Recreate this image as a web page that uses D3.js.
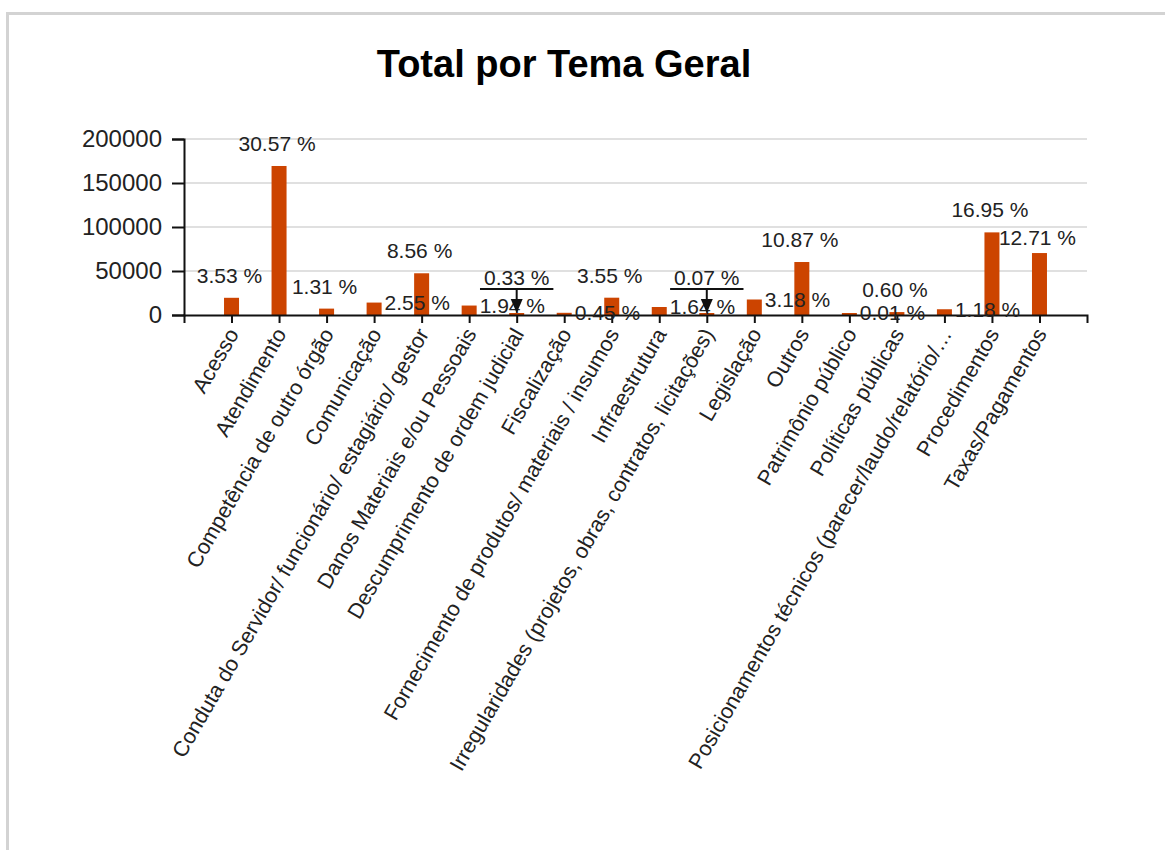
<!DOCTYPE html>
<html>
<head>
<meta charset="utf-8">
<script src="https://cdn.jsdelivr.net/npm/d3@7"></script>
<style>
  body { margin: 0; background: #fff; font-family: Arial, "Liberation Sans", sans-serif; }
  #frame { position: absolute; left: 6px; top: 12px; width: 1200px; height: 900px; border: 3px solid #d3d3d3; }
  #chart { position: absolute; left: 0; top: 0; }
</style>
</head>
<body>
<div id="frame"></div>
<div id="chart"></div>
<script>
// Chart data
const categories = [
  "Acesso",
  "Atendimento",
  "Competência de outro órgão",
  "Comunicação",
  "Conduta do Servidor/ funcionário/ estagiário/ gestor",
  "Danos Materiais e/ou Pessoais",
  "Descumprimento de ordem judicial",
  "Fiscalização",
  "Fornecimento de produtos/ materiais / insumos",
  "Infraestrutura",
  "Irregularidades (projetos, obras, contratos, licitações)",
  "Legislação",
  "Outros",
  "Patrimônio público",
  "Políticas públicas",
  "Posicionamentos técnicos (parecer/laudo/relatório/…",
  "Procedimentos",
  "Taxas/Pagamentos"
];
const values = [
  19553, 169327, 7256, 14124, 47414, 10746, 1828, 2493, 19663,
  9084, 388, 17614, 60209, 55, 3323, 6536, 93886, 70401
];
const yTicks = [0, 50000, 100000, 150000, 200000];
const title = "Total por Tema Geral";

const width = 1165;
const height = 850;
const plotLeft = 184, plotRight = 1087, plotTop = 139, plotBottom = 315;

const svg = d3.select("#chart")
  .append("svg")
  .attr("width", width)
  .attr("height", height);

const x = d3.scalePoint()
  .domain(categories)
  .range([plotLeft, plotRight])
  .padding(1);

const y = d3.scaleLinear()
  .domain([0, 200000])
  .range([plotBottom, plotTop]);

const total = d3.sum(values);
const pct = v => (v / total * 100).toFixed(2) + " %";

// title
svg.append("text")
  .attr("x", 564)
  .attr("y", 77)
  .attr("text-anchor", "middle")
  .style("font-size", "38px")
  .style("font-weight", "bold")
  .style("fill", "#000")
  .text(title);

// gridlines
svg.append("g")
  .selectAll("line")
  .data(yTicks.filter(d => d > 0))
  .join("line")
  .attr("x1", plotLeft)
  .attr("x2", plotRight)
  .attr("y1", d => y(d))
  .attr("y2", d => y(d))
  .attr("stroke", "#e0e0e0")
  .attr("stroke-width", 2);

// bars
const barW = 15;
svg.append("g")
  .selectAll("rect")
  .data(categories)
  .join("rect")
  .attr("x", d => x(d) - barW / 2)
  .attr("width", barW)
  .attr("y", (d, i) => Math.min(y(values[i]), plotBottom - 2))
  .attr("height", (d, i) => Math.max(plotBottom - y(values[i]), 2))
  .attr("fill", "#cc4400");

// y axis
const yAxis = svg.append("g")
  .attr("transform", `translate(${plotLeft},0)`)
  .call(d3.axisLeft(y).tickValues(yTicks).tickSize(12).tickPadding(10).tickFormat(d3.format("d")));
yAxis.selectAll("text").style("font-size", "24px").style("fill", "#222").style("font-family", "Arial, 'Liberation Sans', sans-serif");
yAxis.selectAll("line, path").attr("stroke", "#111").attr("stroke-width", 2);

// x axis
const xAxis = svg.append("g")
  .attr("transform", `translate(0,${plotBottom})`)
  .call(d3.axisBottom(x).tickSize(8).tickSizeOuter(8));
xAxis.selectAll("line, path").attr("stroke", "#111").attr("stroke-width", 2);
xAxis.selectAll("text")
  .style("font-size", "21.5px")
  .style("fill", "#222")
  .style("font-family", "Arial, 'Liberation Sans', sans-serif")
  .attr("text-anchor", "end")
  .attr("y", 0)
  .attr("dy", "0.35em")
  .attr("transform", "translate(1,15) rotate(-60)");

// percentage labels; placement mimics the original label layout
const placement = {
  "Comunicação": "right",
  "Danos Materiais e/ou Pessoais": "right",
  "Fiscalização": "right",
  "Infraestrutura": "right",
  "Legislação": "right",
  "Patrimônio público": "right",
  "Posicionamentos técnicos (parecer/laudo/relatório/…": "right",
  "Descumprimento de ordem judicial": "callout",
  "Irregularidades (projetos, obras, contratos, licitações)": "callout",
  "Taxas/Pagamentos": "low"
};

const labels = svg.append("g")
  .style("font-size", "21px")
  .style("fill", "#222");

categories.forEach((c, i) => {
  const cx = x(c);
  const ty = Math.min(y(values[i]), plotBottom - 2);
  const mode = placement[c] || "top";
  if (mode === "right") {
    labels.append("text")
      .attr("x", cx + barW / 2 + 3)
      .attr("y", ty)
      .attr("dy", "0.35em")
      .attr("text-anchor", "start")
      .text(pct(values[i]));
  } else if (mode === "callout") {
    const t = labels.append("text")
      .attr("x", cx)
      .attr("y", plotBottom - 30)
      .attr("text-anchor", "middle")
      .text(pct(values[i]));
    const w = t.node().getComputedTextLength();
    labels.append("line")
      .attr("x1", cx - w / 2 - 4).attr("x2", cx + w / 2 + 4)
      .attr("y1", plotBottom - 26).attr("y2", plotBottom - 26)
      .attr("stroke", "#111").attr("stroke-width", 2);
    labels.append("line")
      .attr("x1", cx).attr("x2", cx)
      .attr("y1", plotBottom - 26).attr("y2", ty - 12)
      .attr("stroke", "#111").attr("stroke-width", 2);
    labels.append("path")
      .attr("d", `M${cx - 6},${ty - 14}L${cx + 6},${ty - 14}L${cx},${ty}Z`)
      .attr("fill", "#111");
  } else {
    labels.append("text")
      .attr("x", cx - 2)
      .attr("y", ty - (mode === "low" ? 8 : 15))
      .attr("text-anchor", "middle")
      .text(pct(values[i]));
  }
});
</script>
</body>
</html>
